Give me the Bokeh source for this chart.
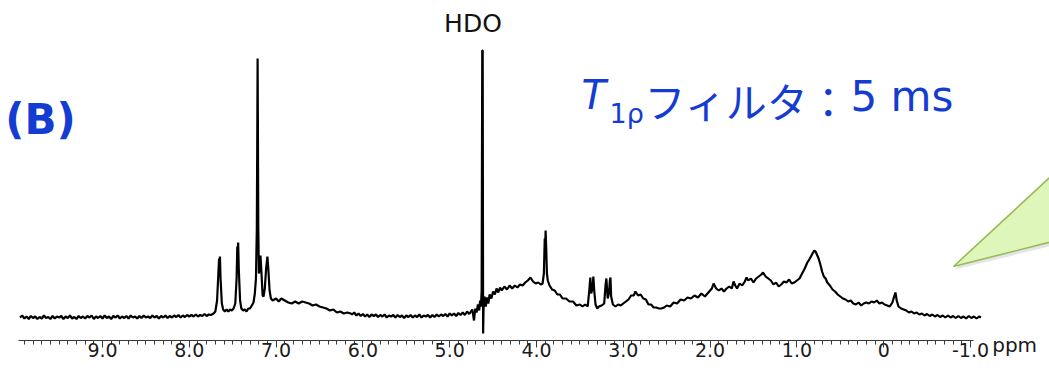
from bokeh.plotting import figure
from bokeh.models import Range1d, FixedTicker, CustomJSTickFormatter, Label
from bokeh.embed import file_html
from bokeh.resources import INLINE

# ---- data: 1H NMR spectrum (chemical shift in ppm, intensity in arbitrary units) ----
ppm_baseline_left = [9.950, 9.925, 9.900, 9.875, 9.850, 9.825, 9.800, 9.775, 9.750, 9.725,
                     9.700, 9.675, 9.650, 9.625, 9.600, 9.575, 9.550, 9.525, 9.500, 9.475,
                     9.450, 9.425, 9.400, 9.375, 9.350, 9.325, 9.300, 9.275, 9.250, 9.225,
                     9.200, 9.175, 9.150, 9.125, 9.100, 9.075, 9.050, 9.025, 9.000, 8.975,
                     8.950, 8.925, 8.900, 8.875, 8.850, 8.825, 8.800, 8.775, 8.750, 8.725,
                     8.700, 8.675, 8.650, 8.625, 8.600, 8.575, 8.550, 8.525, 8.500, 8.475,
                     8.450, 8.425, 8.400, 8.375, 8.350, 8.325, 8.300, 8.275, 8.250, 8.225,
                     8.200, 8.175, 8.150, 8.125, 8.100, 8.075, 8.050, 8.025, 8.000, 7.975,
                     7.950, 7.925, 7.900, 7.875, 7.850, 7.825, 7.800, 7.775, 7.750]
int_baseline_left = [1, 3, 0, 2, -0.5, 2.5, 0.5, 2, -0.5, 1.5,
                     0, 3, 0.5, 1.5, -0.5, 2.5, 0, 2, 1, 2.5,
                     -0.5, 2, 0.5, 3, 0, 1.5, -0.5, 2.5, 0.5, 2,
                     0, 2.5, 1, 3, -0.5, 2, 0.5, 2.5, 0, 3,
                     0.5, 2, -0.5, 2.5, 1, 3, 0, 2, 0.5, 2.5,
                     0, 3, 1, 2, 0, 2.5, 0.5, 3, 1, 2,
                     0.5, 3, 1, 2.5, 0, 2.5, 1, 3, 0.5, 2.5,
                     1, 3, 1.5, 3.5, 1, 3, 1.5, 3.5, 2, 3.5,
                     2, 4, 2, 3.5, 2.5, 4.5, 2.5, 4, 3.5]

ppm_aromatic = [7.72, 7.70, 7.68, 7.665, 7.657, 7.652, 7.647, 7.64, 7.625, 7.61,
                7.59, 7.57, 7.55, 7.53, 7.51, 7.49, 7.47,
                7.455, 7.447, 7.442, 7.437, 7.43, 7.415, 7.40,
                7.38, 7.36, 7.34, 7.32, 7.30, 7.28, 7.26,
                7.245, 7.232, 7.222, 7.216, 7.213, 7.210, 7.205, 7.198, 7.19, 7.18,
                7.17, 7.155, 7.145, 7.13, 7.115, 7.10, 7.09, 7.075, 7.06, 7.04,
                7.00, 6.97, 6.94, 6.90, 6.86, 6.82, 6.78, 6.74, 6.70, 6.66,
                6.62, 6.58, 6.54, 6.50, 6.46, 6.42, 6.38, 6.34, 6.30, 6.26,
                6.22, 6.18, 6.14]
int_aromatic = [5, 7, 18, 45, 60, 52, 62, 40, 15, 9,
                7, 9, 7, 9, 8, 10, 15,
                40, 72, 66, 76, 50, 18, 10,
                8, 9, 7, 10, 10, 13, 16,
                25, 40, 90, 200, 260, 200, 90, 45, 50, 63,
                48, 23, 22, 30, 50, 62, 50, 28, 20, 18,
                20, 17, 20, 18, 16, 15, 17, 15, 17, 16,
                15, 13, 14, 12, 11, 10, 8, 9, 6, 7,
                5, 6, 5]

ppm_mid = [6.125, 6.100, 6.075, 6.050, 6.025, 6.000, 5.975, 5.950, 5.925, 5.900,
           5.875, 5.850, 5.825, 5.800, 5.775, 5.750, 5.725, 5.700, 5.675, 5.650,
           5.625, 5.600, 5.575, 5.550, 5.525, 5.500, 5.475, 5.450, 5.425, 5.400,
           5.375, 5.350, 5.325, 5.300, 5.275, 5.250, 5.225, 5.200, 5.175, 5.150,
           5.125, 5.100, 5.075, 5.050, 5.025, 5.000, 4.975, 4.950, 4.925, 4.900,
           4.875, 4.850, 4.825, 4.800, 4.775,
           4.74, 4.72, 4.705, 4.69, 4.675, 4.66, 4.65, 4.64, 4.632, 4.625,
           4.620, 4.615, 4.61, 4.60, 4.585, 4.57, 4.555, 4.54, 4.52, 4.50,
           4.48, 4.46, 4.44, 4.42, 4.40,
           4.37, 4.34, 4.31, 4.28, 4.25, 4.22, 4.19, 4.16, 4.13, 4.10,
           4.07, 4.04]
int_mid = [4, 6, 3, 5, 2.5, 4.5, 2, 4, 1.5, 4,
           2.5, 4, 1.5, 3.5, 2, 4, 1, 3, 2, 3.5,
           1, 3.5, 1.5, 3, 0.5, 3, 1.5, 3.5, 1, 3,
           1.5, 4, 1, 3, 2, 3.5, 1, 3.5, 1.5, 4,
           2, 4, 2.5, 4.5, 2, 5, 3, 5, 2.5, 5.5,
           3.5, 6, 3.5, 7, 4.5,
           9, -2, 10, 6, 14, 8, 18, 12, 28, 268,
           268, -15, 10, 22, 12, 21, 15, 24, 20, 27,
           24, 30, 26, 31, 28,
           32, 29, 33, 30, 33, 31, 34, 33, 36, 38,
           41, 37]

ppm_aliphatic = [4.01, 3.98, 3.95, 3.93, 3.915, 3.905, 3.90, 3.895, 3.888, 3.88,
                 3.87, 3.85, 3.82, 3.79, 3.76, 3.73, 3.70, 3.66, 3.62, 3.58,
                 3.54, 3.50, 3.47, 3.44, 3.41, 3.39, 3.38, 3.37, 3.355, 3.345,
                 3.335, 3.32, 3.30, 3.28, 3.25, 3.22, 3.205, 3.195, 3.18, 3.165,
                 3.155, 3.148, 3.14, 3.12, 3.09, 3.06, 3.03, 3.00, 2.97, 2.94,
                 2.91, 2.88, 2.86, 2.83, 2.80, 2.77, 2.74, 2.71, 2.68, 2.65,
                 2.62, 2.59, 2.56, 2.53, 2.50, 2.46, 2.42, 2.38, 2.34, 2.30,
                 2.26, 2.22, 2.18, 2.14, 2.10, 2.06, 2.02, 1.98, 1.96, 1.93,
                 1.90, 1.87, 1.84, 1.81, 1.78, 1.75, 1.73, 1.71, 1.69, 1.66,
                 1.63, 1.60, 1.58, 1.56, 1.53, 1.50, 1.47, 1.44, 1.41, 1.39,
                 1.36, 1.33, 1.30, 1.27, 1.24, 1.21, 1.18, 1.15, 1.12, 1.09,
                 1.06, 1.03]
int_aliphatic = [35, 36, 34, 35, 45, 80, 70, 88, 70, 45,
                 38, 33, 29, 28, 24, 24, 20, 20, 17, 17,
                 13, 14, 12, 14, 12, 30, 41, 25, 30, 42,
                 28, 14, 10, 12, 13, 15, 33, 40, 20, 25,
                 38, 41, 22, 14, 12, 14, 13, 15, 17, 19,
                 23, 23, 27, 23, 24, 20, 19, 14, 14, 11,
                 11, 10, 10, 11, 13, 12, 16, 15, 19, 18,
                 21, 20, 23, 21, 25, 22, 26, 30, 35, 30,
                 28, 30, 27, 30, 32, 30, 37, 33, 30, 35,
                 33, 37, 41, 38, 40, 36, 40, 42, 44, 46,
                 42, 40, 38, 34, 36, 32, 34, 37, 36, 39,
                 35, 36]

ppm_upfield = [1.00, 0.97, 0.94, 0.91, 0.88, 0.85, 0.82, 0.80, 0.785, 0.77,
               0.75, 0.73, 0.71, 0.69, 0.67, 0.65, 0.62, 0.59, 0.56, 0.53,
               0.50, 0.47, 0.44, 0.41, 0.38, 0.35, 0.32, 0.29, 0.26, 0.23,
               0.20, 0.17, 0.14, 0.11, 0.08, 0.05, 0.02, -0.01, -0.04, -0.07,
               -0.10, -0.12, -0.135, -0.15, -0.17, -0.20, -0.23, -0.26, -0.29, -0.32,
               -0.35, -0.38, -0.41, -0.44, -0.47, -0.50, -0.53, -0.56, -0.59, -0.62,
               -0.65, -0.68, -0.71, -0.74, -0.77, -0.80, -0.83, -0.86, -0.89, -0.92,
               -0.95, -0.98, -1.01, -1.04, -1.07, -1.10, -1.12]
int_upfield = [38, 40, 45, 50, 56, 60, 65, 68, 67, 64,
               60, 54, 47, 42, 40, 36, 33, 29, 27, 24,
               22, 20, 19, 17, 18, 15, 14, 16, 13, 15,
               16, 15, 17, 16, 18, 15, 16, 14, 13, 12,
               16, 22, 26, 18, 12, 10, 9, 8, 6, 7,
               5, 6, 4, 5, 3, 4.5, 2.5, 4, 2, 3.5,
               1.5, 3, 1, 3, 1, 2.5, 0.5, 2.5, 0.5, 2,
               0, 2.5, 0.5, 2, 0, 2, 1]

tick_values = [9, 8, 7, 6, 5, 4, 3, 2, 1, 0, -1]
tick_labels = ["9.0", "8.0", "7.0", "6.0", "5.0", "4.0", "3.0", "2.0", "1.0", "0", "-1.0"]
minor_tick_values = [round(9.9 - 0.1 * i, 1) for i in range(110)]

x_unit = "ppm"
peak_label = "HDO"
panel_label = "(B)"
title_main = "T"
title_sub = "1ρ"
title_jp = "フィルタ："
title_value = "5 ms"

ppm = ppm_baseline_left + ppm_aromatic + ppm_mid + ppm_aliphatic + ppm_upfield
inten = int_baseline_left + int_aromatic + int_mid + int_aliphatic + int_upfield

# ---- figure ----
p = figure(width=1049, height=370, output_backend="svg", toolbar_location=None,
           x_range=Range1d(10.175, -1.910), y_range=Range1d(-52, 318),
           y_axis_location=None,
           min_border_left=0, min_border_right=0, min_border_top=0, min_border_bottom=0)
p.outline_line_color = None
p.xgrid.visible = False
p.ygrid.visible = False
p.background_fill_color = "white"
p.border_fill_color = "white"

ax = p.xaxis[0]
ax.fixed_location = -22
ax.ticker = FixedTicker(ticks=tick_values, minor_ticks=minor_tick_values)
ax.formatter = CustomJSTickFormatter(
    args=dict(vals=tick_values, labels=tick_labels),
    code="for (let i = 0; i < vals.length; i++) { if (Math.abs(vals[i] - tick) < 1e-6) return labels[i]; } return '';")
ax.bounds = (-1.035, 9.968)
ax.axis_line_color = "#3a3a3a"
ax.axis_line_width = 1.2
ax.major_tick_line_color = "#3a3a3a"
ax.minor_tick_line_color = "#3a3a3a"
ax.major_tick_in = 0
ax.major_tick_out = 7
ax.minor_tick_in = 0
ax.minor_tick_out = 4
ax.major_label_text_font = "DejaVu Sans"
ax.major_label_text_font_size = "19px"
ax.major_label_text_color = "#1a1a1a"
ax.major_label_standoff = -5

# callout triangle (decoration)
p.patch(x=[-0.82, -2.05, -2.05], y=[49, 148, 75], fill_color="#999999", fill_alpha=0.25,
        line_color=None)
p.patch(x=[-0.804, -2.037, -2.037], y=[52, 151, 79], fill_color="#def6ba",
        line_color="#98ba57", line_width=1.6)

# spectrum
p.line(ppm, inten, line_color="black", line_width=2.2)

blue = "#143cd2"
p.add_layout(Label(x=4.732, y=295, text=peak_label, text_font="DejaVu Sans",
                   text_font_size="25px", text_color="#111111", text_align="center",
                   text_baseline="alphabetic"))
p.add_layout(Label(x=10.12, y=199, text=panel_label, text_font="DejaVu Sans",
                   text_font_style="bold", text_font_size="42px", text_color=blue,
                   text_align="left", text_baseline="alphabetic"))
p.add_layout(Label(x=3.482, y=224, text=title_main, text_font="DejaVu Sans",
                   text_font_style="italic", text_font_size="40px", text_color=blue,
                   text_align="left", text_baseline="alphabetic"))
p.add_layout(Label(x=3.159, y=205, text=title_sub, text_font="DejaVu Sans",
                   text_font_size="27px", text_color=blue,
                   text_align="left", text_baseline="alphabetic"))
p.add_layout(Label(x=2.756, y=219, text=title_jp, text_font="Noto Sans CJK JP",
                   text_font_size="41px", text_color=blue,
                   text_align="left", text_baseline="alphabetic"))
p.add_layout(Label(x=0.382, y=222, text=title_value, text_font="DejaVu Sans",
                   text_font_size="42px", text_color=blue,
                   text_align="left", text_baseline="alphabetic"))
p.add_layout(Label(x=-1.25, y=-26, text=x_unit, text_font="DejaVu Sans",
                   text_font_size="20px", text_color="#1a1a1a",
                   text_align="left", text_baseline="alphabetic"))

open("out.html", "w").write(file_html(p, INLINE))
